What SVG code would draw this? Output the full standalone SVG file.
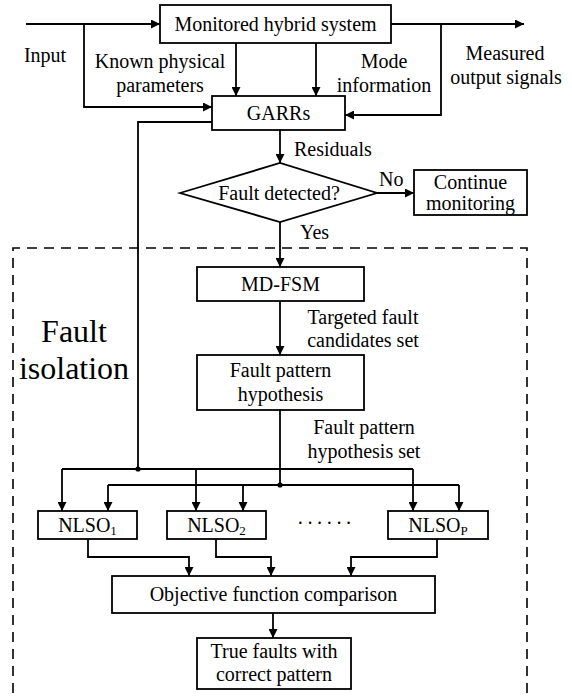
<svg xmlns="http://www.w3.org/2000/svg" width="572" height="699" viewBox="0 0 572 699" font-family="'Liberation Serif', 'Times New Roman', 'DejaVu Serif', serif">
<style>
.box{fill:#fff;stroke:#000;stroke-width:1.8}
.ln{fill:none;stroke:#000;stroke-width:1.8}
text{font-family:'Liberation Serif','Times New Roman','DejaVu Serif',serif}
.t{font-size:20px;fill:#000}
.m{text-anchor:middle}
.big{font-size:32px;fill:#000;text-anchor:middle}
.sub{font-size:13px}
</style>
<defs>
<marker id="ah" viewBox="0 0 10 10" refX="10" refY="5" markerWidth="10" markerHeight="9" markerUnits="userSpaceOnUse" orient="auto">
<path d="M0,0 L10,5 L0,10 z" fill="#000"/>
</marker>
</defs>
<rect width="572" height="699" fill="#fff"/>
<g id="dashed-region">
<path d="M13,710 L13,248 L527,248 L527,710" fill="none" stroke="#000" stroke-width="1.6" stroke-dasharray="10,7"/>
<text class="big" x="74" y="342">Fault</text>
<text class="big" x="74" y="379">isolation</text>
</g>
<g id="connectors">
<path class="ln" d="M26,24 L160,24" marker-end="url(#ah)"/>
<path class="ln" d="M84,24 L84,107 L212,107" marker-end="url(#ah)"/>
<path class="ln" d="M391,24 L524,24" marker-end="url(#ah)"/>
<path class="ln" d="M441,24 L441,115 L345,115" marker-end="url(#ah)"/>
<path class="ln" d="M236,43 L236,96" marker-end="url(#ah)"/>
<path class="ln" d="M316,43 L316,96" marker-end="url(#ah)"/>
<path class="ln" d="M280,130 L280,163" marker-end="url(#ah)"/>
<path class="ln" d="M377,193 L414,193" marker-end="url(#ah)"/>
<path class="ln" d="M280,222 L280,267" marker-end="url(#ah)"/>
<path class="ln" d="M280,301 L280,355" marker-end="url(#ah)"/>
<path class="ln" d="M212,122 L138,122 L138,469"/>
<path class="ln" d="M280,410 L280,485"/>
<path class="ln" d="M62,469 L413,469"/>
<path class="ln" d="M108,485 L459,485"/>
<path class="ln" d="M62,469 L62,511" marker-end="url(#ah)"/>
<path class="ln" d="M196,469 L196,511" marker-end="url(#ah)"/>
<path class="ln" d="M413,469 L413,511" marker-end="url(#ah)"/>
<path class="ln" d="M108,485 L108,511" marker-end="url(#ah)"/>
<path class="ln" d="M243,485 L243,511" marker-end="url(#ah)"/>
<path class="ln" d="M459,485 L459,511" marker-end="url(#ah)"/>
<circle cx="138" cy="469" r="2.6" fill="#000"/>
<circle cx="280" cy="485" r="2.6" fill="#000"/>
<path class="ln" d="M88,539 L88,557 L189,557 L189,576" marker-end="url(#ah)"/>
<path class="ln" d="M216,539 L216,557 L271,557 L271,576" marker-end="url(#ah)"/>
<path class="ln" d="M437,539 L437,557 L351,557 L351,576" marker-end="url(#ah)"/>
<path class="ln" d="M273,613 L273,638" marker-end="url(#ah)"/>
<text class="t m" x="45" y="62">Input</text>
<text class="t m" x="160" y="68">Known physical</text>
<text class="t m" x="160" y="92">parameters</text>
<text class="t m" x="384" y="68">Mode</text>
<text class="t m" x="384" y="92">information</text>
<text class="t m" x="505" y="60">Measured</text>
<text class="t m" x="506" y="84">output signals</text>
<text class="t" x="294" y="156">Residuals</text>
<text class="t" x="379" y="186">No</text>
<text class="t" x="300" y="239">Yes</text>
<text class="t m" x="363" y="324">Targeted fault</text>
<text class="t m" x="363" y="347">candidates set</text>
<text class="t m" x="364" y="434">Fault pattern</text>
<text class="t m" x="364" y="458">hypothesis set</text>
</g>
<g id="monitored">
<rect class="box" x="160" y="5" width="231" height="38"/>
<text class="t m" x="275.5" y="31">Monitored hybrid system</text>
</g>
<g id="garrs">
<rect class="box" x="212" y="96" width="133" height="34"/>
<text class="t m" x="278.5" y="120">GARRs</text>
</g>
<g id="fault-detected">
<polygon class="box" points="180,193 280,163 377,193 280,222"/>
<text class="t m" x="279" y="200">Fault detected?</text>
</g>
<g id="continue">
<rect class="box" x="414" y="170" width="113" height="45"/>
<text class="t m" x="470.5" y="189">Continue</text>
<text class="t m" x="470.5" y="210">monitoring</text>
</g>
<g id="mdfsm">
<rect class="box" x="197" y="267" width="167" height="34"/>
<text class="t m" x="280.5" y="291">MD-FSM</text>
</g>
<g id="hypothesis">
<rect class="box" x="197" y="355" width="167" height="55"/>
<text class="t m" x="280.5" y="377">Fault pattern</text>
<text class="t m" x="280.5" y="401">hypothesis</text>
</g>
<g id="nlso1">
<rect class="box" x="38" y="511" width="99" height="28"/>
<text class="t m" x="87.5" y="532">NLSO<tspan class="sub" dy="3">1</tspan></text>
</g>
<g id="nlso2">
<rect class="box" x="167" y="511" width="99" height="28"/>
<text class="t m" x="216.5" y="532">NLSO<tspan class="sub" dy="3">2</tspan></text>
</g>
<g id="ellipsis">
<text class="t m" x="326" y="530" letter-spacing="3">······</text>
</g>
<g id="nlsop">
<rect class="box" x="388" y="511" width="100" height="28"/>
<text class="t m" x="438" y="532">NLSO<tspan class="sub" dy="3">P</tspan></text>
</g>
<g id="objective">
<rect class="box" x="112" y="576" width="323" height="37"/>
<text class="t m" x="273.5" y="601">Objective function comparison</text>
</g>
<g id="true-faults">
<rect class="box" x="197" y="638" width="154" height="51"/>
<text class="t m" x="274" y="658">True faults with</text>
<text class="t m" x="274" y="681">correct pattern</text>
</g>
</svg>
